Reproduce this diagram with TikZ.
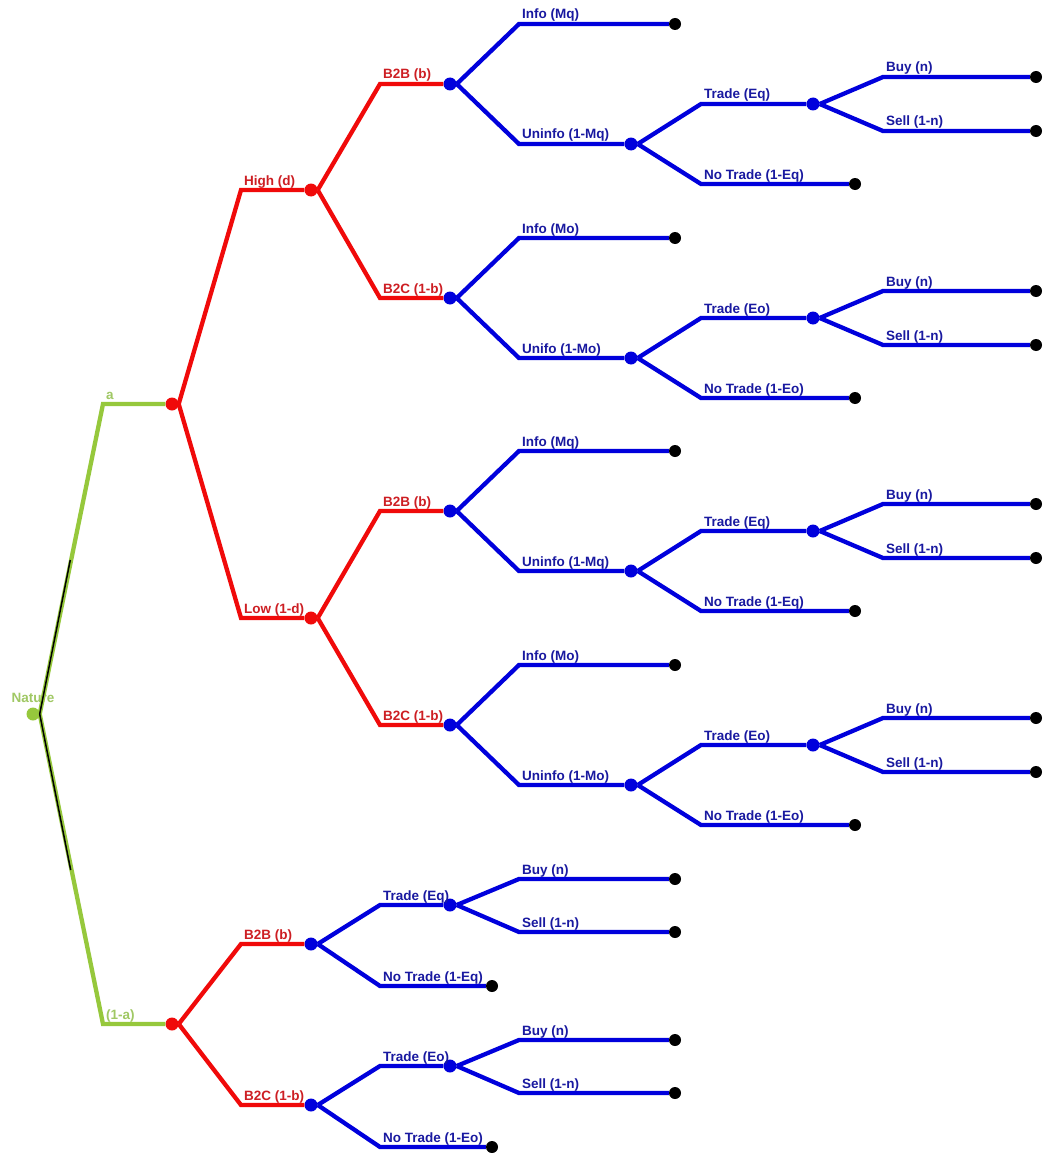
\documentclass[tikz,border=0pt]{standalone}
\usepackage{fontspec}
\setmainfont{Liberation Sans}
\definecolor{gline}{RGB}{150,200,60}
\definecolor{glab}{RGB}{160,200,100}
\definecolor{rline}{RGB}{240,10,10}
\definecolor{rlab}{RGB}{205,30,35}
\definecolor{bline}{RGB}{0,0,220}
\definecolor{blab}{RGB}{25,25,160}
\tikzset{
  gl/.style={draw=gline,line width=4.3pt},
  rl/.style={draw=rline,line width=4.3pt},
  bl/.style={draw=bline,line width=4.3pt},
  gdot/.style={circle,fill=gline,inner sep=0pt,minimum size=13pt},
  rdot/.style={circle,fill=rline,inner sep=0pt,minimum size=13pt},
  bdot/.style={circle,fill=bline,inner sep=0pt,minimum size=13pt},
  kdot/.style={circle,fill=black,inner sep=0pt,minimum size=12pt},
  lab/.style={anchor=base west,inner sep=0pt,font=\fontsize{13.5}{15}\selectfont\bfseries},
}
% #1 source, #2 name, #3 elbow x, #4 y, #5 end x, #6 label, #7 line style, #8 dot style, #9 label colour
\newcommand\seg[9]{%
  \coordinate (#2e) at (#3,#4);
  \node[#8] (#2) at (#5,#4) {};
  \draw[#7] (#1.east) -- (#2e) -- (#2);
  \node[lab,text=#9] (#2l) at ([shift={(3,-5)}]#2e) {#6};
}
% blue subtree with Info / Uninfo at blue node #1 with y #2
\newcommand\infoblock[6]{%
  % #1 node, #2 y, #3 prefix, #4 Info label, #5 Uninfo label, #6 E letter
  \pgfmathsetmacro\yI{#2-60}\pgfmathsetmacro\yU{#2+60}%
  \pgfmathsetmacro\yT{#2+20}\pgfmathsetmacro\yN{#2+100}%
  \pgfmathsetmacro\yB{#2-7}\pgfmathsetmacro\yS{#2+47}%
  \seg{#1}{#3i}{519}{\yI}{675}{#4}{bl}{kdot}{blab}
  \seg{#1}{#3u}{519}{\yU}{631}{#5}{bl}{bdot}{blab}
  \seg{#3u}{#3t}{701}{\yT}{813}{Trade (#6)}{bl}{bdot}{blab}
  \seg{#3u}{#3n}{701}{\yN}{855}{No Trade (1-#6)}{bl}{kdot}{blab}
  \seg{#3t}{#3b}{883}{\yB}{1036}{Buy (n)}{bl}{kdot}{blab}
  \seg{#3t}{#3s}{883}{\yS}{1036}{Sell (1-n)}{bl}{kdot}{blab}
}
% trade subtree at blue node #1 (x=311) with y #2
\newcommand\tradeblock[4]{%
  % #1 node, #2 y, #3 prefix, #4 E letter
  \pgfmathsetmacro\yT{#2-39}\pgfmathsetmacro\yN{#2+42}%
  \pgfmathsetmacro\yB{#2-65}\pgfmathsetmacro\yS{#2-12}%
  \seg{#1}{#3t}{380}{\yT}{450}{Trade (#4)}{bl}{bdot}{blab}
  \seg{#1}{#3n}{380}{\yN}{492}{No Trade (1-#4)}{bl}{kdot}{blab}
  \seg{#3t}{#3b}{519}{\yB}{675}{Buy (n)}{bl}{kdot}{blab}
  \seg{#3t}{#3s}{519}{\yS}{675}{Sell (1-n)}{bl}{kdot}{blab}
}
\begin{document}
\begin{tikzpicture}[x=1pt,y=-1pt]
\useasboundingbox[fill=white] (0,0) rectangle (1050,1153);
% Nature
\node[lab,anchor=base,text=glab] (natl) at (33,702) {Nature};
\node[gdot] (nat) at (33,714) {};
\seg{nat}{ga}{103}{404}{172}{a}{gl}{rdot}{glab}
\seg{nat}{gb}{103}{1024}{172}{(1-a)}{gl}{rdot}{glab}
\coordinate (bk1) at (70.3,560);
\coordinate (bk2) at (70.7,870);
\draw[black,line width=1.5pt] (bk1) -- (nat.east) -- (bk2);
% red levels, upper
\seg{ga}{hi}{241}{190}{311}{High (d)}{rl}{rdot}{rlab}
\seg{ga}{lo}{241}{618}{311}{Low (1-d)}{rl}{rdot}{rlab}
\seg{hi}{hb}{380}{84}{450}{B2B (b)}{rl}{bdot}{rlab}
\seg{hi}{hc}{380}{298}{450}{B2C (1-b)}{rl}{bdot}{rlab}
\seg{lo}{lb}{380}{511}{450}{B2B (b)}{rl}{bdot}{rlab}
\seg{lo}{lc}{380}{725}{450}{B2C (1-b)}{rl}{bdot}{rlab}
\infoblock{hb}{84}{hb}{Info (Mq)}{Uninfo (1-Mq)}{Eq}
\infoblock{hc}{298}{hc}{Info (Mo)}{Unifo (1-Mo)}{Eo}
\infoblock{lb}{511}{lb}{Info (Mq)}{Uninfo (1-Mq)}{Eq}
\infoblock{lc}{725}{lc}{Info (Mo)}{Uninfo (1-Mo)}{Eo}
% lower
\seg{gb}{bb}{241}{944}{311}{B2B (b)}{rl}{bdot}{rlab}
\seg{gb}{bc}{241}{1105}{311}{B2C (1-b)}{rl}{bdot}{rlab}
\tradeblock{bb}{944}{bb}{Eq}
\tradeblock{bc}{1105}{bc}{Eo}
\end{tikzpicture}
\end{document}
